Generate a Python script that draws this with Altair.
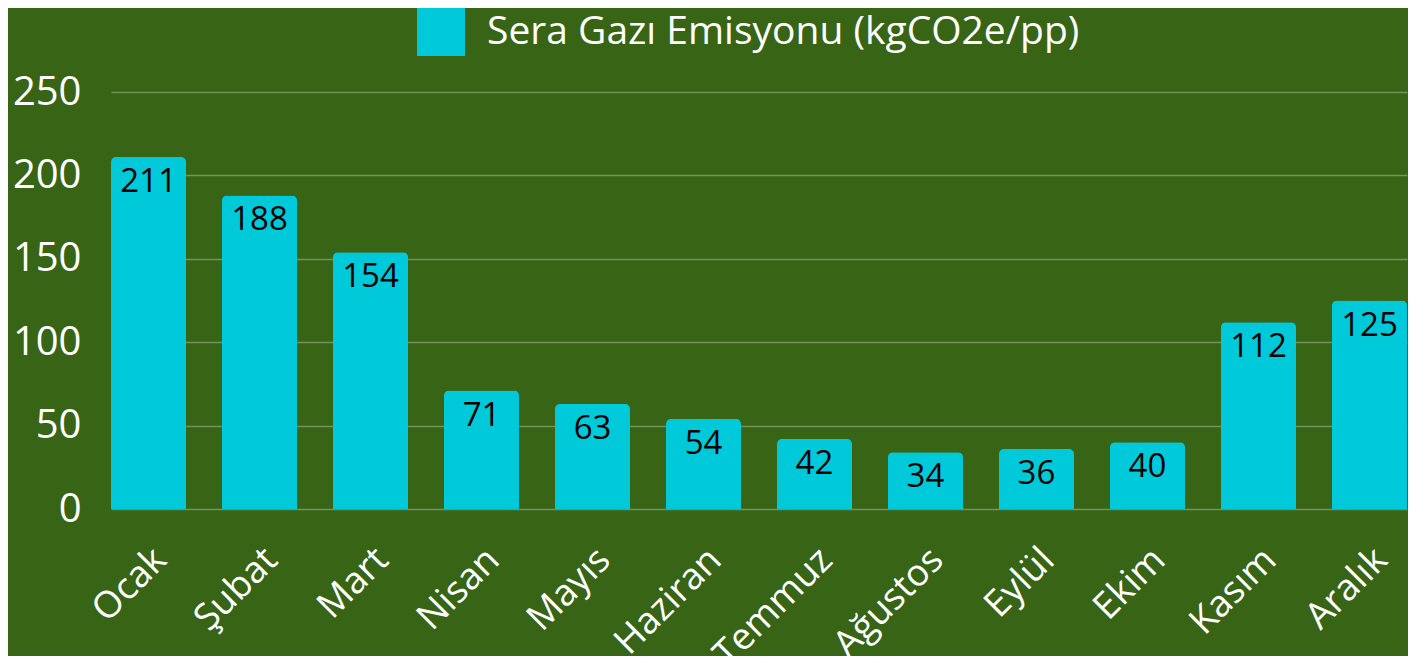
import altair as alt
import pandas as pd

months = ["Ocak", "Şubat", "Mart", "Nisan", "Mayıs", "Haziran", "Temmuz",
          "Ağustos", "Eylül", "Ekim", "Kasım", "Aralık"]
values = [211, 188, 154, 71, 63, 54, 42, 34, 36, 40, 112, 125]
series_name = "Sera Gazı Emisyonu (kgCO2e/pp)"
y_ticks = [0, 50, 100, 150, 200, 250]

df = pd.DataFrame({"month": months, "value": values, "series": [series_name] * len(months)})

FONT = "Open Sans"
BG = "#386416"
BAR = "#00c9da"

base = alt.Chart(df).encode(
    x=alt.X("month:N", sort=months, title=None,
            scale=alt.Scale(paddingInner=0.324, paddingOuter=0),
            axis=alt.Axis(labelAngle=-45, labelAlign="right", labelBaseline="middle",
                          labelFontSize=37, labelColor="white", labelFont=FONT,
                          labelPadding=45, labelOffset=12, domain=False, ticks=False, grid=False)),
    y=alt.Y("value:Q", title=None,
            scale=alt.Scale(domain=[0, 250], nice=False),
            axis=alt.Axis(values=y_ticks, labelFontSize=40, labelColor="white", labelFont=FONT,
                          labelPadding=30, domain=False, ticks=False, grid=True,
                          gridColor="rgba(255,255,255,0.3)", gridWidth=1.5)),
)

bars = base.mark_bar(cornerRadiusTopLeft=5, cornerRadiusTopRight=5).encode(
    color=alt.Color("series:N", title=None,
                    scale=alt.Scale(range=[BAR]),
                    legend=alt.Legend(orient="none", legendX=306, legendY=-84,
                                      symbolType="square", symbolSize=2304,
                                      symbolStrokeWidth=0, symbolFillColor=BAR,
                                      labelFontSize=39, labelColor="white", labelFont=FONT,
                                      labelOffset=22, labelLimit=0, padding=0))
)

text = base.mark_text(baseline="top", dy=9, fontSize=33, color="black", font=FONT).encode(
    text="value:Q"
)

chart = (bars + text).properties(
    width=1296, height=417,
    padding={"left": 103, "top": 84, "right": 1, "bottom": 147},
    autosize=alt.AutoSizeParams(type="none"),
    background=BG,
).configure_view(stroke=None)

chart.save("out.html", embed_options={"renderer": "svg", "actions": False})
